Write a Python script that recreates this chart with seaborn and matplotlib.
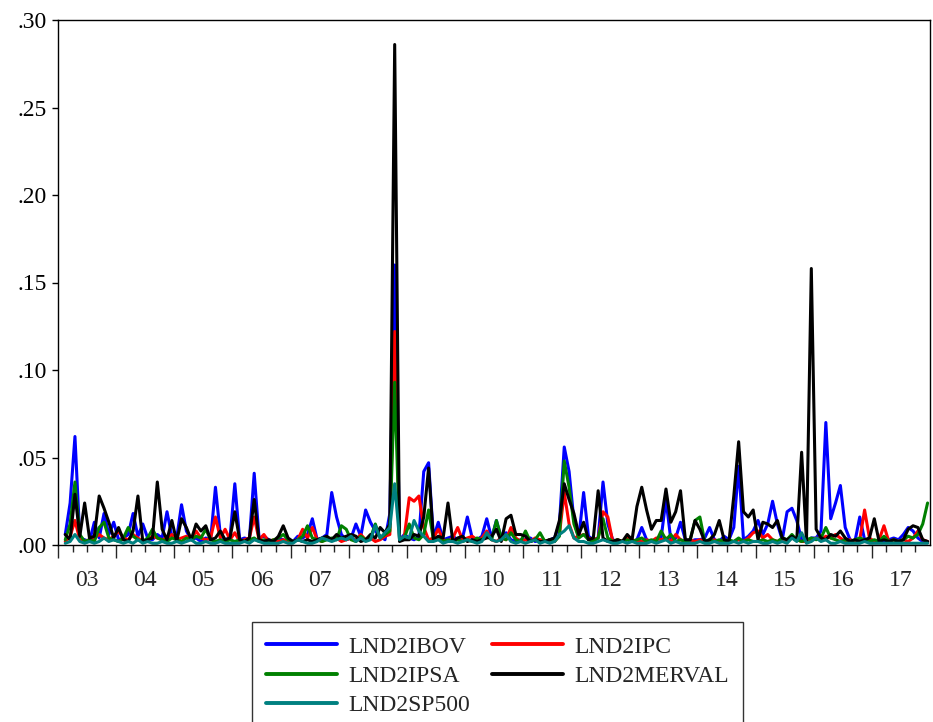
import matplotlib
matplotlib.use("Agg")
import numpy as np
import pandas as pd
import matplotlib.pyplot as plt
import seaborn as sns

# monthly observations, 2003M02 .. 2017M12 (one row per year)
START_YEAR = 2003
START_MONTH = 2

ibov = [
    0.006, 0.024, 0.062, 0.004, 0.003, 0.002, 0.013, 0.004, 0.018, 0.006, 0.013,
    0.003, 0.004, 0.006, 0.018, 0.005, 0.012, 0.004, 0.003, 0.006, 0.004, 0.019, 0.005,
    0.004, 0.023, 0.008, 0.003, 0.004, 0.002, 0.004, 0.003, 0.033, 0.006, 0.003, 0.004,
    0.035, 0.003, 0.004, 0.003, 0.041, 0.004, 0.005, 0.003, 0.002, 0.004, 0.003, 0.002,
    0.002, 0.005, 0.004, 0.006, 0.015, 0.003, 0.004, 0.006, 0.030, 0.016, 0.006, 0.003,
    0.004, 0.012, 0.005, 0.020, 0.013, 0.008, 0.005, 0.003, 0.018, 0.160, 0.003, 0.006,
    0.004, 0.003, 0.005, 0.042, 0.047, 0.004, 0.013, 0.003, 0.004, 0.005, 0.003, 0.004,
    0.016, 0.004, 0.003, 0.005, 0.015, 0.004, 0.014, 0.004, 0.007, 0.003, 0.002, 0.003,
    0.003, 0.004, 0.002, 0.003, 0.002, 0.003, 0.004, 0.012, 0.056, 0.042, 0.014, 0.004,
    0.030, 0.005, 0.003, 0.004, 0.036, 0.012, 0.003, 0.002, 0.002, 0.003, 0.002, 0.003,
    0.010, 0.003, 0.002, 0.003, 0.004, 0.026, 0.003, 0.004, 0.013, 0.003, 0.002, 0.003,
    0.003, 0.004, 0.010, 0.003, 0.002, 0.005, 0.003, 0.010, 0.045, 0.003, 0.005, 0.008,
    0.014, 0.006, 0.012, 0.025, 0.012, 0.003, 0.019, 0.021, 0.014, 0.003, 0.002, 0.004,
    0.004, 0.008, 0.070, 0.015, 0.024, 0.034, 0.010, 0.003, 0.002, 0.016, 0.003, 0.002,
    0.002, 0.003, 0.002, 0.003, 0.004, 0.003, 0.006, 0.010, 0.008, 0.004, 0.002, 0.002,
]

ipc = [
    0.002, 0.005, 0.014, 0.003, 0.002, 0.003, 0.004, 0.006, 0.004, 0.003, 0.005,
    0.008, 0.004, 0.003, 0.006, 0.004, 0.002, 0.003, 0.005, 0.004, 0.003, 0.004, 0.006,
    0.003, 0.004, 0.005, 0.003, 0.008, 0.004, 0.003, 0.004, 0.016, 0.004, 0.009, 0.003,
    0.007, 0.002, 0.003, 0.004, 0.016, 0.003, 0.006, 0.002, 0.003, 0.002, 0.003, 0.002,
    0.002, 0.003, 0.009, 0.004, 0.010, 0.003, 0.002, 0.004, 0.003, 0.004, 0.002, 0.003,
    0.004, 0.003, 0.006, 0.003, 0.004, 0.002, 0.003, 0.005, 0.006, 0.122, 0.003, 0.005,
    0.027, 0.025, 0.028, 0.010, 0.003, 0.004, 0.009, 0.003, 0.002, 0.004, 0.010, 0.003,
    0.004, 0.005, 0.003, 0.004, 0.008, 0.003, 0.002, 0.004, 0.003, 0.010, 0.004, 0.002,
    0.003, 0.002, 0.004, 0.003, 0.002, 0.003, 0.002, 0.006, 0.030, 0.012, 0.004, 0.005,
    0.006, 0.004, 0.003, 0.004, 0.019, 0.016, 0.002, 0.003, 0.002, 0.004, 0.003, 0.002,
    0.002, 0.003, 0.002, 0.004, 0.003, 0.004, 0.002, 0.006, 0.003, 0.002, 0.003, 0.002,
    0.003, 0.002, 0.002, 0.003, 0.002, 0.003, 0.002, 0.002, 0.003, 0.002, 0.004, 0.007,
    0.008, 0.004, 0.006, 0.003, 0.002, 0.003, 0.002, 0.004, 0.003, 0.002, 0.002, 0.003,
    0.004, 0.003, 0.005, 0.004, 0.006, 0.004, 0.002, 0.003, 0.002, 0.003, 0.020, 0.004,
    0.002, 0.003, 0.011, 0.002, 0.003, 0.002, 0.003, 0.002, 0.004, 0.008, 0.003, 0.002,
]

ipsa = [
    0.003, 0.012, 0.036, 0.006, 0.002, 0.003, 0.002, 0.010, 0.013, 0.004, 0.003,
    0.002, 0.004, 0.010, 0.005, 0.003, 0.002, 0.004, 0.009, 0.004, 0.003, 0.002, 0.004,
    0.003, 0.002, 0.004, 0.003, 0.005, 0.004, 0.009, 0.003, 0.002, 0.003, 0.002, 0.003,
    0.002, 0.003, 0.002, 0.003, 0.004, 0.002, 0.003, 0.002, 0.003, 0.004, 0.006, 0.003,
    0.002, 0.003, 0.005, 0.011, 0.004, 0.003, 0.002, 0.003, 0.004, 0.003, 0.011, 0.009,
    0.003, 0.002, 0.005, 0.003, 0.004, 0.012, 0.004, 0.006, 0.008, 0.093, 0.003, 0.004,
    0.012, 0.004, 0.003, 0.006, 0.020, 0.003, 0.004, 0.002, 0.003, 0.002, 0.003, 0.002,
    0.003, 0.002, 0.004, 0.003, 0.005, 0.003, 0.014, 0.004, 0.003, 0.007, 0.003, 0.002,
    0.008, 0.002, 0.003, 0.007, 0.002, 0.003, 0.002, 0.005, 0.048, 0.033, 0.012, 0.004,
    0.006, 0.003, 0.002, 0.004, 0.015, 0.004, 0.002, 0.003, 0.002, 0.003, 0.002, 0.003,
    0.004, 0.002, 0.003, 0.002, 0.008, 0.003, 0.006, 0.002, 0.003, 0.002, 0.003, 0.014,
    0.016, 0.002, 0.003, 0.002, 0.003, 0.002, 0.003, 0.002, 0.004, 0.002, 0.003, 0.002,
    0.002, 0.003, 0.002, 0.003, 0.002, 0.004, 0.003, 0.006, 0.003, 0.002, 0.003, 0.004,
    0.003, 0.004, 0.010, 0.004, 0.003, 0.002, 0.003, 0.002, 0.003, 0.004, 0.003, 0.002,
    0.003, 0.002, 0.005, 0.002, 0.003, 0.002, 0.003, 0.005, 0.004, 0.006, 0.012, 0.024,
]

merval = [
    0.006, 0.003, 0.029, 0.005, 0.024, 0.004, 0.005, 0.028, 0.021, 0.013, 0.004,
    0.010, 0.003, 0.002, 0.008, 0.028, 0.002, 0.003, 0.004, 0.036, 0.009, 0.003, 0.014,
    0.002, 0.015, 0.010, 0.003, 0.012, 0.008, 0.011, 0.003, 0.004, 0.008, 0.003, 0.004,
    0.019, 0.003, 0.002, 0.004, 0.026, 0.003, 0.002, 0.003, 0.002, 0.005, 0.011, 0.004,
    0.002, 0.003, 0.002, 0.003, 0.002, 0.003, 0.004, 0.005, 0.003, 0.006, 0.004, 0.005,
    0.006, 0.005, 0.002, 0.003, 0.006, 0.004, 0.010, 0.007, 0.012, 0.286, 0.002, 0.003,
    0.003, 0.006, 0.005, 0.016, 0.044, 0.003, 0.005, 0.004, 0.024, 0.002, 0.004, 0.005,
    0.002, 0.003, 0.002, 0.003, 0.004, 0.005, 0.009, 0.002, 0.015, 0.017, 0.006, 0.006,
    0.005, 0.002, 0.003, 0.002, 0.002, 0.003, 0.004, 0.014, 0.035, 0.026, 0.018, 0.006,
    0.013, 0.003, 0.004, 0.031, 0.004, 0.002, 0.002, 0.003, 0.002, 0.006, 0.003, 0.022,
    0.033, 0.020, 0.009, 0.014, 0.014, 0.032, 0.013, 0.019, 0.031, 0.003, 0.003, 0.014,
    0.009, 0.002, 0.003, 0.006, 0.014, 0.003, 0.002, 0.028, 0.059, 0.019, 0.016, 0.020,
    0.003, 0.013, 0.012, 0.010, 0.014, 0.004, 0.003, 0.005, 0.003, 0.053, 0.002, 0.158,
    0.009, 0.004, 0.003, 0.006, 0.005, 0.008, 0.004, 0.002, 0.003, 0.002, 0.003, 0.004,
    0.015, 0.002, 0.003, 0.002, 0.003, 0.002, 0.003, 0.009, 0.011, 0.010, 0.003, 0.002,
]

sp500 = [
    0.001, 0.002, 0.006, 0.002, 0.001, 0.002, 0.001, 0.002, 0.004, 0.002, 0.003,
    0.002, 0.001, 0.002, 0.001, 0.003, 0.001, 0.002, 0.001, 0.001, 0.002, 0.001, 0.001,
    0.002, 0.001, 0.002, 0.003, 0.001, 0.001, 0.002, 0.001, 0.001, 0.002, 0.001, 0.001,
    0.001, 0.001, 0.002, 0.001, 0.003, 0.002, 0.001, 0.001, 0.001, 0.001, 0.002, 0.001,
    0.001, 0.003, 0.002, 0.001, 0.001, 0.002, 0.004, 0.003, 0.002, 0.003, 0.004, 0.003,
    0.005, 0.002, 0.004, 0.002, 0.003, 0.011, 0.004, 0.007, 0.010, 0.035, 0.003, 0.005,
    0.004, 0.014, 0.008, 0.005, 0.002, 0.002, 0.003, 0.001, 0.002, 0.002, 0.001, 0.002,
    0.003, 0.002, 0.001, 0.002, 0.007, 0.003, 0.002, 0.003, 0.006, 0.002, 0.001, 0.002,
    0.001, 0.002, 0.003, 0.001, 0.002, 0.001, 0.002, 0.006, 0.008, 0.011, 0.004, 0.002,
    0.002, 0.001, 0.001, 0.002, 0.003, 0.002, 0.001, 0.001, 0.002, 0.001, 0.002, 0.001,
    0.001, 0.001, 0.002, 0.001, 0.002, 0.003, 0.001, 0.002, 0.001, 0.001, 0.001, 0.001,
    0.002, 0.001, 0.001, 0.002, 0.001, 0.001, 0.001, 0.002, 0.001, 0.002, 0.001, 0.002,
    0.002, 0.001, 0.001, 0.002, 0.001, 0.002, 0.001, 0.004, 0.002, 0.007, 0.001, 0.002,
    0.004, 0.002, 0.003, 0.001, 0.001, 0.002, 0.001, 0.001, 0.001, 0.001, 0.002, 0.001,
    0.001, 0.001, 0.001, 0.001, 0.001, 0.001, 0.001, 0.001, 0.001, 0.001, 0.001, 0.001,
]

series_names = ["LND2IBOV", "LND2IPC", "LND2IPSA", "LND2MERVAL", "LND2SP500"]
series_colors = ["#0000ff", "#ff0000", "#008000", "#000000", "#008080"]
year_labels = ["03", "04", "05", "06", "07", "08", "09", "10",
               "11", "12", "13", "14", "15", "16", "17"]
y_ticks = [0.00, 0.05, 0.10, 0.15, 0.20, 0.25, 0.30]
y_tick_labels = [".00", ".05", ".10", ".15", ".20", ".25", ".30"]

# decimal-year position of each monthly observation (mid month)
n_obs = len(ibov)
idx = np.arange(n_obs) + (START_MONTH - 1)
t = START_YEAR + idx // 12 + (idx % 12 + 0.5) / 12.0

frames = []
for name, vals in zip(series_names, [ibov, ipc, ipsa, merval, sp500]):
    frames.append(pd.DataFrame({"t": t, "value": vals, "series": name}))
df = pd.concat(frames, ignore_index=True)

sns.set_style("ticks")
plt.rcParams["font.family"] = ["Liberation Serif", "DejaVu Serif"]

W, H = 933, 722
fig = plt.figure(figsize=(W / 100, H / 100), dpi=100)
ax = fig.add_axes([58 / W, 1 - 545 / H, (930 - 58) / W, (545 - 20) / H])

sns.lineplot(data=df, x="t", y="value", hue="series", hue_order=series_names,
             palette=dict(zip(series_names, series_colors)), linewidth=2.2,
             estimator=None, ax=ax)

ax.set_xlim(2003, 2018)
ax.set_ylim(0, 0.30)
ax.set_xlabel("")
ax.set_ylabel("")

ax.set_yticks(y_ticks, y_tick_labels)
ax.set_xticks(list(range(2003, 2018)), [""] * 15)
minor_pos = [y + q for y in range(2003, 2018) for q in (0.25, 0.5, 0.75)]
minor_lab = [year_labels[i // 3] if i % 3 == 1 else "" for i in range(len(minor_pos))]
ax.set_xticks(minor_pos, minor_lab, minor=True)

ax.tick_params(axis="y", which="both", length=4, width=1, direction="out",
               labelsize=17, pad=4, colors="black")
ax.tick_params(axis="x", which="major", length=9, width=1, direction="out")
ax.tick_params(axis="x", which="minor", length=5, width=1, direction="out",
               labelsize=17, pad=13)

for side in ["left", "right", "top", "bottom"]:
    ax.spines[side].set_visible(True)
    ax.spines[side].set_color("black")
    ax.spines[side].set_linewidth(1.0)

# legend: two columns, filled column by column
handles, labels = ax.get_legend_handles_labels()
if ax.get_legend() is not None:
    ax.get_legend().remove()
order = [0, 2, 4, 1, 3]
leg = fig.legend([handles[i] for i in order], [labels[i] for i in order],
                 ncol=2, loc="upper left", bbox_to_anchor=(252 / W, 1 - 622 / H),
                 frameon=True, fancybox=False, edgecolor="black", fontsize=17,
                 handlelength=3.0, handletextpad=0.5, columnspacing=0.9,
                 labelspacing=0.32, borderpad=0.6, borderaxespad=0.0)
leg.get_frame().set_linewidth(1.0)
for line in leg.get_lines():
    line.set_linewidth(2.8)

fig.savefig("out.png", dpi=100)
